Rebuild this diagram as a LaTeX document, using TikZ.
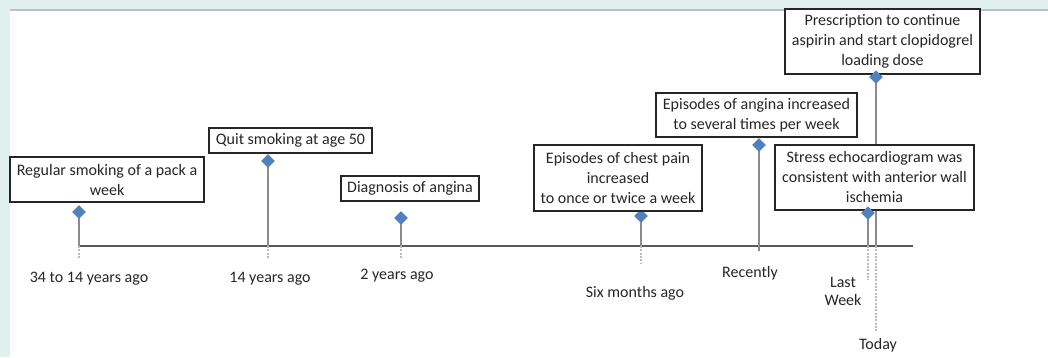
\documentclass[tikz,border=0pt]{standalone}
\usepackage{fontspec}
\setmainfont{Carlito}
\usetikzlibrary{shapes.geometric, shadows}
\tikzset{>=stealth}
\definecolor{pagebg}{HTML}{E1EFEF}
\definecolor{rulegray}{HTML}{B7C3C1}
\definecolor{gemblue}{HTML}{4F81BD}
\definecolor{stemgray}{HTML}{8C8C8C}
\definecolor{inkgray}{HTML}{262626}
\tikzset{
  evbox/.style={draw=black!85, fill=white, line width=1.1pt, align=center, inner sep=1pt,
    font=\fontsize{12}{15}\selectfont, text=inkgray,
    drop shadow={shadow xshift=0.8pt, shadow yshift=-0.8pt, opacity=0.25}},
  gem/.style={diamond, fill=gemblue, inner sep=0pt, minimum size=10pt},
  stem/.style={draw=stemgray, line width=1.4pt},
  tail/.style={draw=stemgray!60, line width=1.4pt, dash pattern=on 1.5pt off 1pt},
  when/.style={font=\fontsize{12}{13.5}\selectfont, text=inkgray, align=center}
}

\begin{document}
\begin{tikzpicture}[x=0.75pt, y=-0.75pt]
    \useasboundingbox[fill=pagebg] (0,0) rectangle (1048,357);
    \fill[white] (10,11) rectangle (1048,357);
    \draw[rulegray, line width=1.5pt] (10,10) -- (1048,10);
    % time axis
    \coordinate (axL) at (79,246);
    \coordinate (axR) at (913,246);
    \draw[black!65, line width=0.8pt] (axL) -- (axR);
    % points on the axis and ends of the tails
    \coordinate (A) at (79,246);   \coordinate (A2) at (79,258);
    \coordinate (B) at (268,246);  \coordinate (B2) at (268,258);
    \coordinate (C) at (401,246);  \coordinate (C2) at (401,258);
    \coordinate (D) at (641,246);  \coordinate (D2) at (641,264);
    \coordinate (E) at (759,251);
    \coordinate (F) at (868,246);  \coordinate (F2) at (868,280);
    \coordinate (G) at (876,246);  \coordinate (G2) at (876,331);
    % stems
    \node[gem] (gA) at (79,212) {};
    \node[gem] (gB) at (268,161) {};
    \node[gem] (gC) at (401,218) {};
    \node[gem] (gD) at (641,216) {};
    \node[gem] (gE) at (759,145) {};
    \node[gem] (gF) at (868,213) {};
    \node[gem] (gG) at (876,77) {};
    \draw[stem] (gA.center) -- (A);
    \draw[stem] (gB.center) -- (B);
    \draw[stem] (gC.center) -- (C);
    \draw[stem] (gD.center) -- (D);
    \draw[stem] (gE.center) -- (E);
    \draw[stem] (gF.center) -- (F);
    \draw[stem] (gG.center) -- (G);
    \draw[tail] (A) -- (A2);
    \draw[tail] (B) -- (B2);
    \draw[tail] (C) -- (C2);
    \draw[tail] (D) -- (D2);
    \draw[tail] (F) -- (F2);
    \draw[tail] (G) -- (G2);
    \node[gem] at (gA) {};
    \node[gem] at (gB) {};
    \node[gem] at (gC) {};
    \node[gem] at (gD) {};
    \node[gem] at (gE) {};
    % event boxes
    \node[evbox, minimum width=194*0.75pt, minimum height=45*0.75pt] (smoke) at (107,179.5)
      {Regular smoking of a pack a\\week};
    \node[evbox, minimum width=163*0.75pt, minimum height=25*0.75pt] (quit) at (290.5,140.5)
      {Quit smoking at age 50};
    \node[evbox, minimum width=138*0.75pt, minimum height=25*0.75pt] (diag) at (410,188.5)
      {Diagnosis of angina};
    \node[evbox, minimum width=168*0.75pt, minimum height=66*0.75pt] (chest) at (618,178)
      {Episodes of chest pain\\increased\\to once or twice a week};
    \node[evbox, minimum width=201*0.75pt, minimum height=44*0.75pt] (angina) at (756.5,115)
      {Episodes of angina increased\\to several times per week};
    \node[evbox, minimum width=199*0.75pt, minimum height=65*0.75pt] (echo) at (874.5,177.5)
      {Stress echocardiogram was\\consistent with anterior wall\\ischemia};
    \node[evbox, minimum width=195*0.75pt, minimum height=65*0.75pt] (presc) at (882.5,41.5)
      {Prescription to continue\\aspirin and start clopidogrel\\loading dose};
    \node[gem] at (gF) {};
    \node[gem] at (gG) {};
    % time labels
    \node[when] (tA) at (89,279) {34 to 14 years ago};
    \node[when] (tB) at (270,279) {14 years ago};
    \node[when] (tC) at (397,276) {2 years ago};
    \node[when] (tD) at (635,293) {Six months ago};
    \node[when] (tE) at (750,273) {Recently};
    \node[when] (tF) at (843,291) {Last\\Week};
    \node[when] (tG) at (878,345) {Today};
\end{tikzpicture}
\end{document}
